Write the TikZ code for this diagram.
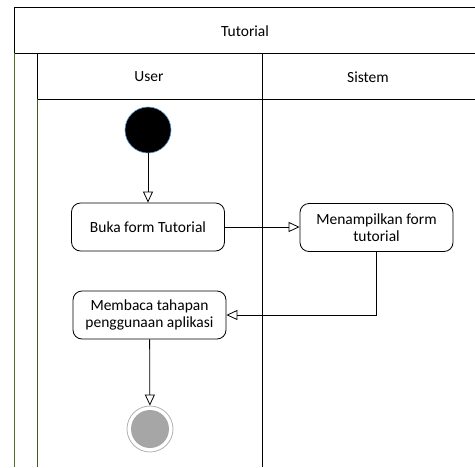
\documentclass[tikz,border=0pt]{standalone}
\usepackage{fontspec}
\setmainfont{Carlito}
\usetikzlibrary{arrows.meta}

\definecolor{garishijau}{RGB}{80,115,40}
\definecolor{garisbiru}{RGB}{91,155,213}

\begin{document}
\begin{tikzpicture}[x=1pt,y=-1pt,line width=0.8pt,
    teks/.style={font=\fontsize{15.5}{17.5}\selectfont},
    aktivitas/.style={draw,rounded corners=9pt,minimum width=153pt,minimum height=48pt,
        align=center,inner sep=2pt,teks},
    mulaistate/.style={circle,fill=black,draw=garisbiru,line width=0.6pt,minimum size=46pt,inner sep=0pt},
    akhirstate/.style={circle,draw=gray!60,fill=white,minimum size=46pt,inner sep=0pt,
        path picture={\fill[gray!70] (path picture bounding box.center) circle (19pt);}},
    alur/.style={-{Triangle[open,length=11pt,width=10pt]}}]
    \useasboundingbox (0,0) rectangle (475,467);

    % swimlane
    \draw (14,7) -- (475,7);
    \draw (14,53) -- (475,53);
    \draw (37,99) -- (475,99);
    \draw (14,7) -- (14,53);
    \draw[garishijau,line width=1pt] (14,53) -- (14,467);
    \draw (37,53) -- (37,99);
    \draw[garishijau!80!black,line width=1pt] (37,99) -- (37,467);
    \draw (262,53) -- (262,467);

    \node[teks] (judul) at (245,31) {Tutorial};
    \node[teks] (user) at (149,77) {User};
    \node[teks] (sistem) at (368,77) {Sistem};

    % aktivitas
    \node[mulaistate] (mulai) at (148,130) {};
    \node[aktivitas] (buka) at (148,227) {Buka form Tutorial};
    \node[aktivitas] (tampil) at (376.5,227.5) {Menampilkan form\\tutorial};
    \node[aktivitas] (baca) at (149.5,315) {Membaca tahapan\\penggunaan aplikasi};
    \node[akhirstate] (akhir) at (150,429) {};

    \draw[alur] (mulai) -- (buka);
    \draw[alur] (buka.east) -- (buka.east -| tampil.west);
    \draw[alur] (tampil.south) |- (baca.east);
    \draw[alur] (baca) -- (akhir);
\end{tikzpicture}
\end{document}
